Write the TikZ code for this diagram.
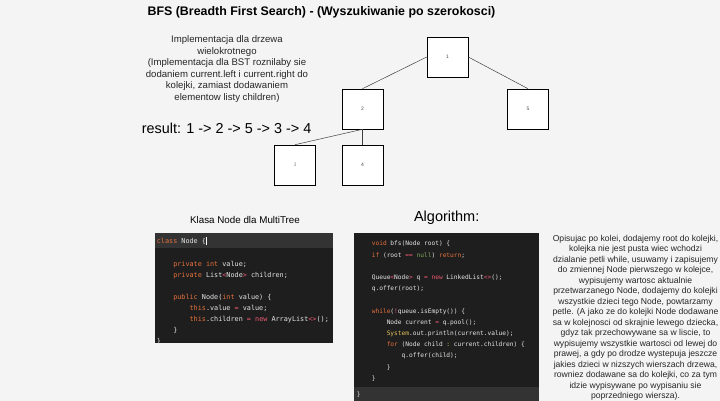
\documentclass[tikz,border=0pt]{standalone}
\usepackage{fontspec}
\setmainfont{Liberation Sans}
\setmonofont{DejaVu Sans Mono}
\usepackage{xcolor}
\usepackage{tikz}
\usetikzlibrary{positioning}

\definecolor{pagebg}{HTML}{F4F4F4}
\definecolor{codebg}{HTML}{1E1E1E}
\definecolor{codebar}{HTML}{333333}
\definecolor{codetxt}{HTML}{E6E6E6}
\definecolor{kwcol}{HTML}{E8713C}
\definecolor{opcol}{HTML}{EE5A73}
\definecolor{syscol}{HTML}{E3C35A}
\definecolor{litcol}{HTML}{7DA35C}

\newcommand{\ckw}[1]{\textcolor{kwcol}{#1}}
\newcommand{\cop}[1]{\textcolor{opcol}{#1}}
\newcommand{\csys}[1]{\textcolor{syscol}{#1}}
\newcommand{\clit}[1]{\textcolor{litcol}{#1}}
\newcommand{\ind}{\phantom{xxxx}}

\begin{document}
\begin{tikzpicture}[x=1pt, y=-1pt,
    treenode/.style={draw, fill=white, line width=0.6pt, minimum width=41pt, minimum height=40pt, inner sep=0pt, font=\fontsize{5}{6}\selectfont, text=black!70},
    edge/.style={draw=black!75, line width=0.5pt},
    note/.style={align=center, text=black!85},
    codebox/.style={fill=codebg, anchor=north west, inner sep=0pt},
    codebar/.style={fill=codebar, anchor=north west, inner sep=0pt},
    code/.style={align=left, text=codetxt, inner sep=0pt, anchor=north west}
]

\useasboundingbox[fill=pagebg] (0,0) rectangle (720,401);

\node[font=\bfseries\fontsize{12.4}{14}\selectfont] (title) at (321.5,12.5) {BFS (Breadth First Search) - (Wyszukiwanie po szerokosci)};

\node[note, font=\fontsize{9.6}{11.6}\selectfont] (desc) at (227,69) {Implementacja dla drzewa\\wielokrotnego\\(Implementacja dla BST roznilaby sie\\dodaniem current.left i current.right do\\kolejki, zamiast dodawaniem\\elementow listy children)};
\node[font=\fontsize{14.4}{16}\selectfont, anchor=west, inner sep=0pt] (result) at (141.7,128) {result: 1 -> 2 -> 5 -> 3 -> 4};

% tree
\node[treenode] (n1) at (447.5,57) {1};
\node[treenode] (n2) at (362.5,109) {2};
\node[treenode] (n5) at (528,109) {5};
\node[treenode, text=black!45] (n3) at (295,165) {3};
\node[treenode] (n4) at (362.5,165) {4};
\draw[edge] (n1.west) -- (n2.north);
\draw[edge] (n1.east) -- (n5.north);
\draw[edge] (n2.south) -- (n3.north);
\draw[edge] (n2.south) -- (n4.north);

% class Node
\node[font=\fontsize{9.8}{12}\selectfont] (clslabel) at (245,220) {Klasa Node dla MultiTree};
\node[codebox, minimum width=178pt, minimum height=110pt] (clsbox) at (155,233) {};
\node[codebar, minimum width=178pt, minimum height=15pt] (clsbar) at (clsbox.north west) {};
\node[code, anchor=west, font=\ttfamily\fontsize{6.8}{11}\selectfont] (clshead) at (156.7,240.5) {\ckw{class} Node \{\textcolor{white}{\rule[-1.5pt]{0.5pt}{8pt}}};
\node[code, font=\ttfamily\fontsize{6.8}{11}\selectfont] (clscode) at (156.7,261.5) {%
\ind\ckw{private} \ckw{int} value;\\
\ind\ckw{private} List\cop{<}Node\cop{>} children;\\
\mbox{}\\
\ind\ckw{public} Node(\ckw{int} value) \{\\
\ind\ind\ckw{this}.value \cop{=} value;\\
\ind\ind\ckw{this}.children \cop{=} \cop{new} ArrayList\cop{<>}();\\
\ind\}\\
\}};

% algorithm
\node[font=\fontsize{14.5}{17}\selectfont] (alglabel) at (446.7,218) {Algorithm:};
\node[codebox, minimum width=185pt, minimum height=168pt] (algbox) at (354,233) {};
\node[codebar, minimum width=185pt, minimum height=14pt] (algbar) at (354,387) {};
\node[code, font=\ttfamily\fontsize{6.2}{11.2}\selectfont] (algcode) at (356.7,241) {%
\ind\ckw{void} bfs(Node root) \{\\
\ind\ckw{if} (root \cop{==} \clit{null}) \ckw{return};\\
\mbox{}\\
\ind Queue\cop{<}Node\cop{>} q \cop{=} \cop{new} LinkedList\cop{<>}();\\
\ind q.offer(root);\\
\mbox{}\\
\ind\ckw{while}(\cop{!}queue.isEmpty()) \{\\
\ind\ind Node current \cop{=} q.pool();\\
\ind\ind\csys{System}.out.println(current.value);\\
\ind\ind\ckw{for} (Node child \csys{:} current.children) \{\\
\ind\ind\ind q.offer(child);\\
\ind\ind\}\\
\ind\}};
\node[code, anchor=west, font=\ttfamily\fontsize{6.2}{11.2}\selectfont] (algend) at (356.7,394.5) {\}};

\node[note, font=\fontsize{8.6}{10.5}\selectfont] (explain) at (635.5,318) {Opisujac po kolei, dodajemy root do kolejki,\\kolejka nie jest pusta wiec wchodzi\\dzialanie petli while, usuwamy i zapisujemy\\do zmiennej Node pierwszego w kolejce,\\wypisujemy wartosc aktualnie\\przetwarzanego Node, dodajemy do kolejki\\wszystkie dzieci tego Node, powtarzamy\\petle. (A jako ze do kolejki Node dodawane\\sa w kolejnosci od skrajnie lewego dziecka,\\gdyz tak przechowywane sa w liscie, to\\wypisujemy wszystkie wartosci od lewej do\\prawej, a gdy po drodze wystepuja jeszcze\\jakies dzieci w nizszych wierszach drzewa,\\rowniez dodawane sa do kolejki, co za tym\\idzie wypisywane po wypisaniu sie\\poprzedniego wiersza).};

\end{tikzpicture}
\end{document}
